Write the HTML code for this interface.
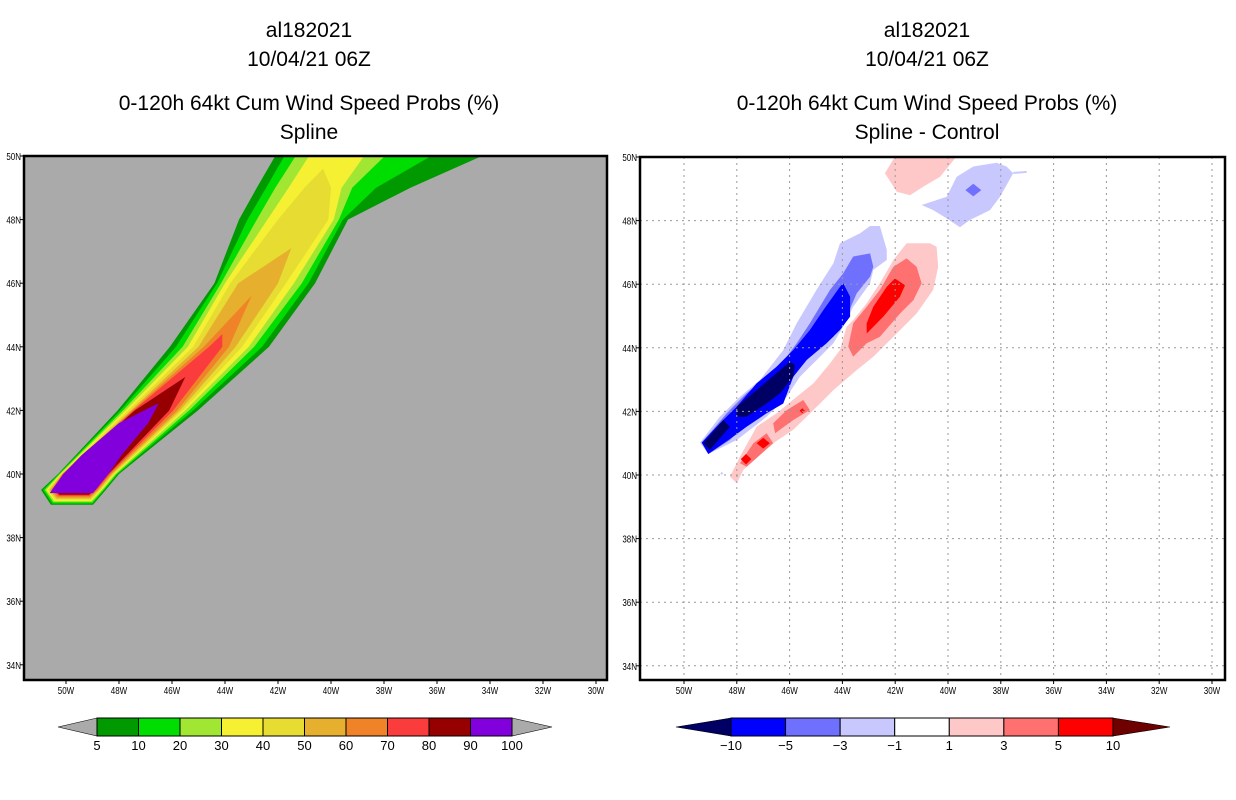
<!DOCTYPE html>
<html><head><meta charset="utf-8"><style>
body{margin:0;background:#fff;}
svg{display:block;font-family:"Liberation Sans",sans-serif;}
</style></head><body>
<svg id="chart" width="1236" height="800" viewBox="0 0 1236 800" xmlns="http://www.w3.org/2000/svg">
<rect width="1236" height="800" fill="#fff"/>
<g font-size="21" text-anchor="middle" fill="#000">
<text x="309" y="37">al182021</text>
<text x="309" y="66">10/04/21 06Z</text>
<text x="309" y="110">0-120h 64kt Cum Wind Speed Probs (%)</text>
<text x="309" y="139">Spline</text>
</g>
<g font-size="21" text-anchor="middle" fill="#000">
<text x="927" y="37">al182021</text>
<text x="927" y="66">10/04/21 06Z</text>
<text x="927" y="110">0-120h 64kt Cum Wind Speed Probs (%)</text>
<text x="927" y="139">Spline - Control</text>
</g>
<defs>
<clipPath id="clipL"><rect x="24" y="156" width="583" height="524"/></clipPath>
<clipPath id="clipR"><rect x="640" y="157" width="585" height="523"/></clipPath>
</defs>
<g id="left"></g>
<g id="right"></g>
<g id="cbar"></g>
</svg>
<script>
const NS="http://www.w3.org/2000/svg";
// ---- left panel data (probability bands) ----
const probLevels=[5,10,20,30,40,50,60,70,80,90];
const probColors=["#009900","#00dd00","#a0e632","#f5f032","#e6dc32","#e6af2d","#f08228","#fa3c3c","#960000","#8200dc"];
const bandLats=[
[39.03,39.5,40,42,44,46,48,49,50.3],
[39.07,39.5,40,42,44,46,48,49,50.3],
[39.11,39.5,40,42,44,46,48,49,50.3],
[39.15,39.5,40,42,44,46,48,49,50.3],
[39.19,39.5,40,42,44,46,48,49,49.6],
[39.23,39.5,40,42,44,46,47.1],
[39.27,39.5,40,42,44,45.6],
[39.31,39.5,40,42,44,44.4],
[39.35,39.5,40,42,43.05],
[39.4,40,40.6,41.6,42.23]];
const bandLeft=[
[-50.57,-50.94,-50.3,-48.05,-46.08,-44.4,-43.47,-42.8,-41.9],
[-50.52,-50.87,-50.27,-47.95,-45.85,-44.3,-43.15,-42.45,-41.55],
[-50.48,-50.8,-50.24,-47.85,-45.6,-44.15,-42.8,-42.1,-41.1],
[-50.44,-50.74,-50.21,-47.75,-45.4,-44.0,-42.4,-41.6,-40.6],
[-50.4,-50.68,-50.18,-47.65,-45.2,-43.8,-42.0,-41.0,-40.3],
[-50.36,-50.62,-50.15,-47.55,-45.0,-43.5,-41.5],
[-50.32,-50.56,-50.13,-47.5,-44.8,-43.0],
[-50.28,-50.5,-50.11,-47.45,-44.6,-44.1],
[-50.24,-50.45,-50.1,-47.4,-45.5],
[-50.62,-50.1,-49.4,-48.0,-46.5]];
const bandRight=[
[-48.98,-48.5,-48.0,-45.02,-42.34,-40.6,-39.36,-37.0,-33.5],
[-49.0,-48.55,-48.05,-45.2,-42.6,-40.85,-39.55,-38.3,-35.6],
[-49.02,-48.6,-48.1,-45.35,-42.9,-41.1,-39.7,-39.2,-37.6],
[-49.04,-48.65,-48.15,-45.5,-43.1,-41.4,-39.9,-39.6,-38.5],
[-49.06,-48.7,-48.2,-45.6,-43.35,-41.7,-40.1,-40.0,-40.3],
[-49.08,-48.75,-48.25,-45.7,-43.6,-42.0,-41.5],
[-49.1,-48.8,-48.3,-45.8,-43.85,-43.0],
[-49.12,-48.85,-48.35,-45.95,-44.1,-44.1],
[-49.14,-48.9,-48.4,-46.1,-45.5],
[-48.98,-48.4,-47.9,-46.9,-46.5]];
// ---- right panel data (difference polygons) ----
const diffLevels=[-10,-5,-3,-1,1,3,5,10];
const diffColors={"-10":"#000064","-5":"#0000ff","-3":"#7070ff","-1":"#c8c8ff","1":"#ffc8c8","3":"#ff7070","5":"#ff0000"};
const diffPolyLevel=["-1","-3","-5","-10","-10","1","3","3","3","5","5","5","5","1","-1","-1","-3","-1"];
const diffPolys=[
[[-49.39,41.02],[-48.64,41.83],[-47.88,42.46],[-47.12,42.99],[-46.24,43.93],[-45.73,44.77],[-44.98,45.82],[-44.34,46.66],[-44.09,47.29],[-43.33,47.6],[-42.95,47.83],[-42.58,47.83],[-42.32,47.08],[-42.32,46.76],[-42.83,46.45],[-42.95,46.03],[-43.59,45.29],[-43.97,44.66],[-44.34,44.14],[-44.85,43.72],[-45.61,43.09],[-46.11,42.46],[-46.87,41.83],[-48.0,41.1],[-49.08,40.66]],
[[-49.33,41.02],[-48.38,41.94],[-47.63,42.57],[-46.87,43.09],[-46.11,43.72],[-45.73,44.14],[-45.23,44.77],[-44.47,45.82],[-43.97,46.34],[-43.59,46.87],[-42.95,46.97],[-42.83,46.55],[-42.95,46.24],[-43.46,45.71],[-43.84,44.98],[-44.34,44.35],[-45.1,43.83],[-45.73,43.3],[-46.24,42.46],[-46.87,42.04],[-47.88,41.42],[-48.26,41.1],[-49.08,40.66]],
[[-49.33,41.02],[-48.64,41.63],[-48.0,42.15],[-47.25,42.88],[-46.49,43.41],[-45.86,43.93],[-45.23,44.56],[-44.72,45.19],[-44.09,45.92],[-43.97,46.03],[-43.71,45.61],[-43.71,44.98],[-44.09,44.56],[-44.6,44.14],[-45.35,43.62],[-45.86,43.09],[-46.24,42.25],[-46.87,41.94],[-47.63,41.52],[-48.13,41.21],[-49.08,40.66]],
[[-48.0,42.15],[-47.25,42.67],[-46.36,43.3],[-45.99,43.56],[-45.8,43.46],[-45.86,43.09],[-46.36,42.57],[-46.87,42.25],[-47.63,41.83],[-48.0,41.83]],
[[-49.27,41.0],[-48.51,41.73],[-48.26,41.52],[-49.02,40.79]],
[[-48.26,39.95],[-48.0,39.74],[-47.75,40.16],[-46.62,41.0],[-45.86,41.42],[-45.1,42.04],[-44.34,42.67],[-43.46,43.3],[-42.83,43.72],[-42.07,44.35],[-41.19,45.08],[-40.56,45.82],[-40.37,46.55],[-40.43,47.18],[-40.68,47.29],[-41.57,47.29],[-42.07,46.76],[-42.58,46.03],[-43.08,45.4],[-43.59,44.87],[-43.84,44.66],[-44.09,43.93],[-44.47,43.51],[-45.1,42.88],[-45.73,42.46],[-46.49,41.94],[-47.25,41.52],[-47.88,40.58]],
[[-43.59,43.72],[-43.08,44.14],[-42.58,44.35],[-41.82,45.08],[-41.31,45.5],[-41.0,46.03],[-41.19,46.55],[-41.57,46.81],[-42.07,46.55],[-42.58,45.82],[-43.08,45.29],[-43.59,44.77],[-43.78,44.04]],
[[-46.55,41.31],[-45.86,41.73],[-45.23,42.04],[-45.48,42.36],[-46.11,42.04],[-46.62,41.63]],
[[-47.88,40.37],[-47.63,40.26],[-46.62,41.0],[-46.87,41.31],[-47.37,41.0]],
[[-43.08,44.45],[-42.45,44.98],[-41.82,45.61],[-41.63,45.97],[-42.01,46.18],[-42.32,45.92],[-42.83,45.29],[-43.08,44.77]],
[[-47.65,40.66],[-47.45,40.5],[-47.65,40.33],[-47.85,40.5]],
[[-47.0,41.17],[-46.75,41.0],[-47.0,40.83],[-47.25,41.0]],
[[-45.52,42.1],[-45.42,42.02],[-45.52,41.94],[-45.62,42.02]],
[[-42.39,49.49],[-41.94,50.1],[-39.6,50.1],[-39.73,49.96],[-40.3,49.38],[-40.93,49.07],[-41.44,48.8],[-41.94,48.91]],
[[-41.0,48.49],[-40.05,48.75],[-39.67,49.38],[-39.04,49.7],[-38.16,49.82],[-37.78,49.7],[-37.53,49.49],[-38.03,48.75],[-38.41,48.33],[-39.17,48.02],[-39.55,47.79],[-40.05,48.07],[-40.56,48.33]],
[[-37.53,49.53],[-37.02,49.56],[-37.02,49.5],[-37.53,49.47]],
[[-39.04,49.16],[-38.74,48.96],[-39.04,48.76],[-39.34,48.96]],
[[-48.57,40.1],[-48.52,40.05],[-48.57,40.0],[-48.62,40.05]]];
const lonTicks=[-50,-48,-46,-44,-42,-40,-38,-36,-34,-32,-30];
const latTicks=[34,36,38,40,42,44,46,48,50];

function XL(lon){return 66+(lon+50)*26.5;}
function YL(lat){return 156+(50-lat)*31.8;}
function XR(lon){return 684+(lon+50)*26.4;}
function YR(lat){return 157+(50-lat)*31.8;}
function mk(tag,attrs,parent){const e=document.createElementNS(NS,tag);for(const k in attrs)e.setAttribute(k,attrs[k]);parent.appendChild(e);return e;}
function lonLab(v){return Math.abs(v)+"W";}

// ---- left panel ----
const L=document.getElementById('left');
const lc=mk('g',{'clip-path':'url(#clipL)'},L);
const bg=mk('rect',{x:24,y:156,width:583,height:524,fill:'#aaaaaa'},lc);


probLevels.forEach((lv,i)=>{
  const pts=[];
  for(let j=0;j<bandLats[i].length;j++)pts.push(XL(bandLeft[i][j]).toFixed(1)+","+YL(bandLats[i][j]).toFixed(1));
  for(let j=bandLats[i].length-1;j>=0;j--)pts.push(XL(bandRight[i][j]).toFixed(1)+","+YL(bandLats[i][j]).toFixed(1));
  const p=mk('polygon',{points:pts.join(' '),fill:probColors[i]},lc);
  
  
});
mk('rect',{x:24,y:156,width:583,height:524,fill:'none',stroke:'#000','stroke-width':2.5},L);
function axes(g,X,Y,x0,x1,yb,labX){
  lonTicks.forEach(v=>{
    mk('line',{x1:X(v),x2:X(v),y1:yb,y2:yb+4,stroke:'#000'},g);
    const t=mk('text',{x:X(v),y:yb+14,'font-size':10,'text-anchor':'middle',transform:`translate(${X(v)},0) scale(0.8,1) translate(${-X(v)},0)`},g);
    t.textContent=lonLab(v);
    
    
  });
  latTicks.forEach(v=>{
    mk('line',{x1:x0-4,x2:x0,y1:Y(v),y2:Y(v),stroke:'#000'},g);
    const t=mk('text',{x:labX,y:Y(v)+4,'font-size':10,'text-anchor':'end',transform:`translate(${labX},0) scale(0.8,1) translate(${-labX},0)`},g);
    t.textContent=v+"N";
    
    
  });
}
axes(L,XL,YL,24,607,680,21);

// ---- right panel ----
const R=document.getElementById('right');
const rc=mk('g',{'clip-path':'url(#clipR)'},R);
mk('rect',{x:640,y:157,width:585,height:523,fill:'#fff'},rc);
diffPolys.forEach((poly,i)=>{
  const p=mk('polygon',{points:poly.map(q=>XR(q[0]).toFixed(1)+","+YR(q[1]).toFixed(1)).join(' '),fill:diffColors[diffPolyLevel[i]]},rc);
  
  
});
lonTicks.forEach(v=>{const l=mk('line',{x1:XR(v),x2:XR(v),y1:157,y2:680,stroke:'#999','stroke-dasharray':'2,4'},rc);

});
latTicks.forEach(v=>{const l=mk('line',{x1:640,x2:1225,y1:YR(v),y2:YR(v),stroke:'#999','stroke-dasharray':'2,4'},rc);

});
mk('rect',{x:640,y:157,width:585,height:523,fill:'none',stroke:'#000','stroke-width':2.5},R);
axes(R,XR,YR,640,1225,680,637);

// ---- colorbars ----
const C=document.getElementById('cbar');
function cbar(x0,x1,y0,y1,lx,rx,colors,labels,lcol,rcol,name){
  const g=mk('g',{},C);
  
  
  const n=colors.length,w=(x1-x0)/n,ym=(y0+y1)/2;
  mk('polygon',{points:`${x0},${y0} ${lx},${ym} ${x0},${y1}`,fill:lcol,stroke:'#000','stroke-width':0.6},g);
  mk('polygon',{points:`${x1},${y0} ${rx},${ym} ${x1},${y1}`,fill:rcol,stroke:'#000','stroke-width':0.6},g);
  colors.forEach((c,i)=>{const r=mk('rect',{x:x0+i*w,y:y0,width:w,height:y1-y0,fill:c,stroke:'#000','stroke-width':1},g);
  
  });
  labels.forEach((lb,i)=>{const t=mk('text',{x:x0+i*w,y:y1+14,'font-size':13,'text-anchor':'middle'},g);t.textContent=lb;});
}
cbar(97,512,718,736,58,552,probColors,probLevels.concat([100]),'#aaaaaa','#aaaaaa','left-colorbar');
cbar(731,1113,718,736,676,1170,["#0000ff","#7070ff","#c8c8ff","#ffffff","#ffc8c8","#ff7070","#ff0000"],diffLevels.map(v=>v<0?"\u2212"+(-v):""+v),'#000064','#6e0000','right-colorbar');
</script>
</body></html>
